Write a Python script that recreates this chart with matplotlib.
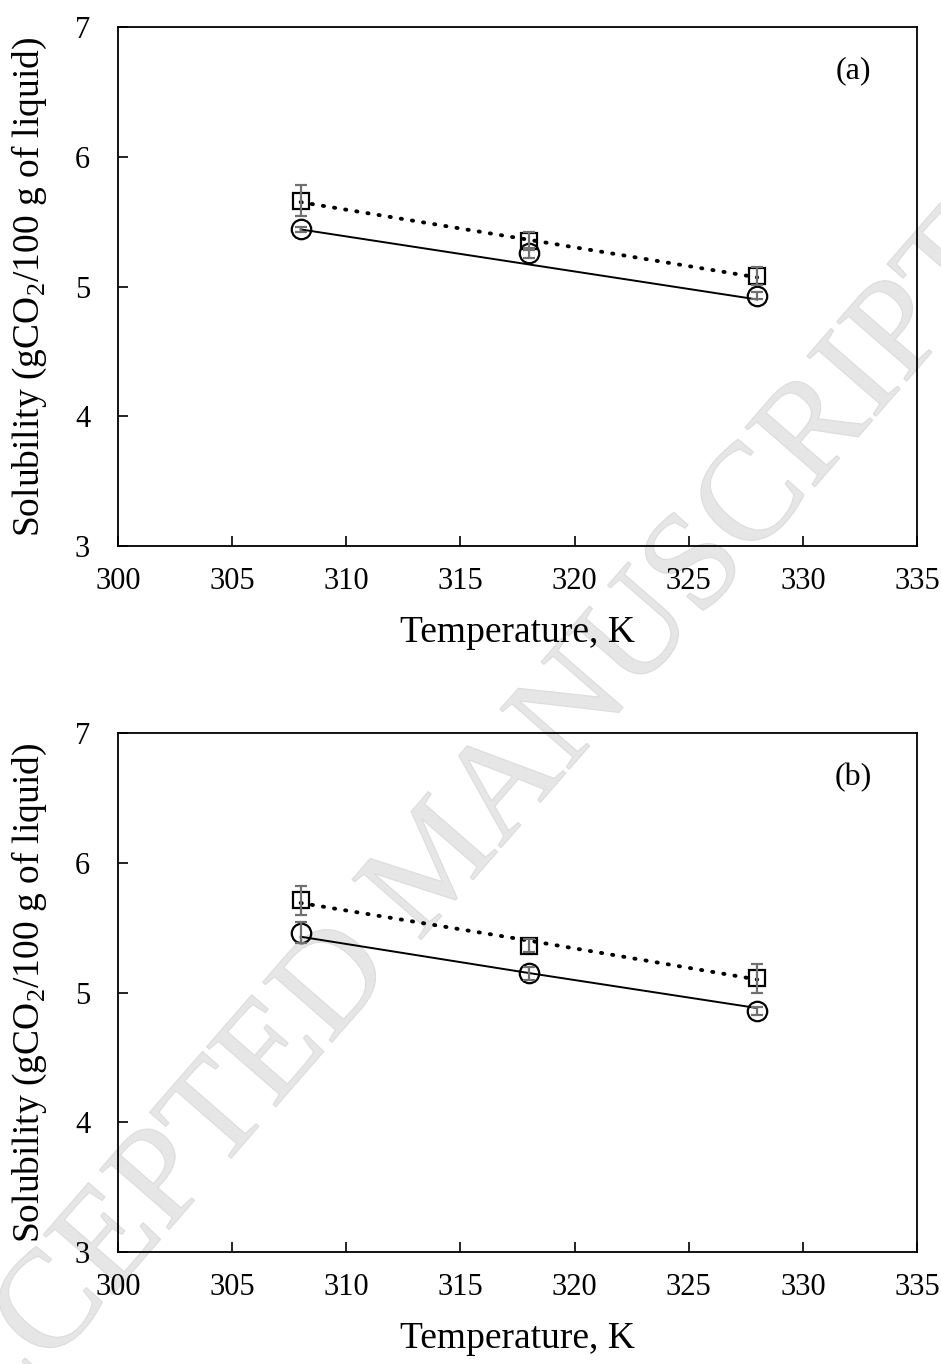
import matplotlib
matplotlib.use("Agg")
import numpy as np
import matplotlib.pyplot as plt
from matplotlib.textpath import TextPath, TextToPath
from matplotlib.patches import PathPatch
from matplotlib.font_manager import FontProperties
from matplotlib.path import Path
import matplotlib.transforms as mtransforms

plt.rcParams['font.family'] = ['Liberation Serif', 'DejaVu Serif']
plt.rcParams['mathtext.fontset'] = 'custom'
plt.rcParams['mathtext.rm'] = 'Liberation Serif'

# ---- data ----
temperature = [308, 318, 328]

# panel (a)
a_sq = [5.66, 5.35, 5.08]
a_sq_err = [0.12, 0.07, 0.07]
a_ci = [5.44, 5.26, 4.93]
a_ci_err = [0.02, 0.04, 0.03]
a_fit_dot = [5.65, 5.36, 5.07]
a_fit_sol = [5.44, 5.17, 4.90]

# panel (b)
b_sq = [5.71, 5.36, 5.11]
b_sq_err = [0.11, 0.05, 0.11]
b_ci = [5.46, 5.15, 4.86]
b_ci_err = [0.08, 0.05, 0.03]
b_fit_dot = [5.69, 5.40, 5.10]
b_fit_sol = [5.43, 5.15, 4.88]

panel_labels = ['(a)', '(b)']
xticks = [300, 305, 310, 315, 320, 325, 330, 335]
yticks = [3, 4, 5, 6, 7]
xlabel = 'Temperature, K'
ylabel = r'Solubility (gCO$_\mathregular{2}$/100 g of liquid)'
watermark = 'ACCEPTED MANUSCRIPT'

W, H = 941, 1364
fig = plt.figure(figsize=(W / 100, H / 100), dpi=100)

# watermark (light gray, behind the axes)
wm_size = 140
wm_angle = 49
wm_start = (-79, -151)
fp = FontProperties(family='Liberation Serif')
tp = TextPath((0, 0), watermark, size=wm_size, prop=fp)
tr = mtransforms.Affine2D().rotate_deg(wm_angle).translate(*wm_start)
wm = PathPatch(tr.transform_path(tp), facecolor='#e6e6e6', edgecolor='#dcdcdc',
               lw=0.8, transform=mtransforms.IdentityTransform(), zorder=-5)
fig.add_artist(wm)

ax_a = fig.add_axes([118 / W, 1 - 546 / H, (917 - 118) / W, (546 - 27) / H])
ax_b = fig.add_axes([118 / W, 1 - 1252 / H, (917 - 118) / W, (1252 - 733) / H])

panels = [
    (ax_a, a_sq, a_sq_err, a_ci, a_ci_err, a_fit_dot, a_fit_sol, panel_labels[0]),
    (ax_b, b_sq, b_sq_err, b_ci, b_ci_err, b_fit_dot, b_fit_sol, panel_labels[1]),
]

for ax, sq, sqe, ci, cie, fd, fs, lab in panels:
    ax.set_facecolor('none')
    ax.plot(temperature, fd, linestyle=(0, (0.3, 2.6)), color='black', lw=2.8,
            dash_capstyle='round', zorder=2)
    ax.plot(temperature, fs, linestyle='-', color='black', lw=1.4, zorder=2)
    ax.plot(temperature, sq, linestyle='none', marker='s', ms=11.5, mfc='none',
            mec='black', mew=1.6, zorder=3)
    ax.plot(temperature, ci, linestyle='none', marker='o', ms=14, mfc='none',
            mec='black', mew=1.6, zorder=3)
    ax.errorbar(temperature, sq, yerr=sqe, fmt='none', ecolor='#707070',
                elinewidth=1.6, capsize=4, capthick=1.6, zorder=4)
    ax.errorbar(temperature, ci, yerr=cie, fmt='none', ecolor='#707070',
                elinewidth=1.6, capsize=4, capthick=1.6, zorder=4)

    ax.set_xlim(300, 335)
    ax.set_ylim(3, 7)
    ax.set_xticks(xticks)
    ax.set_yticks(yticks)
    ax.tick_params(direction='in', length=7, width=1.2, labelsize=22)
    ax.tick_params(axis='x', pad=15)
    ax.tick_params(axis='y', pad=20)
    for s in ax.spines.values():
        s.set_linewidth(1.3)
    ax.set_xlabel(xlabel, fontsize=27, va='baseline')
    ax.xaxis.set_label_coords(0.5, -0.185)
    ax.set_ylabel(ylabel, fontsize=27, va='center')
    ax.yaxis.set_label_coords(-0.111, 0.5)
    ax.text(0.92, 0.915, lab, transform=ax.transAxes, fontsize=23,
            ha='center', va='center')

fig.savefig('out.png', dpi=100)
